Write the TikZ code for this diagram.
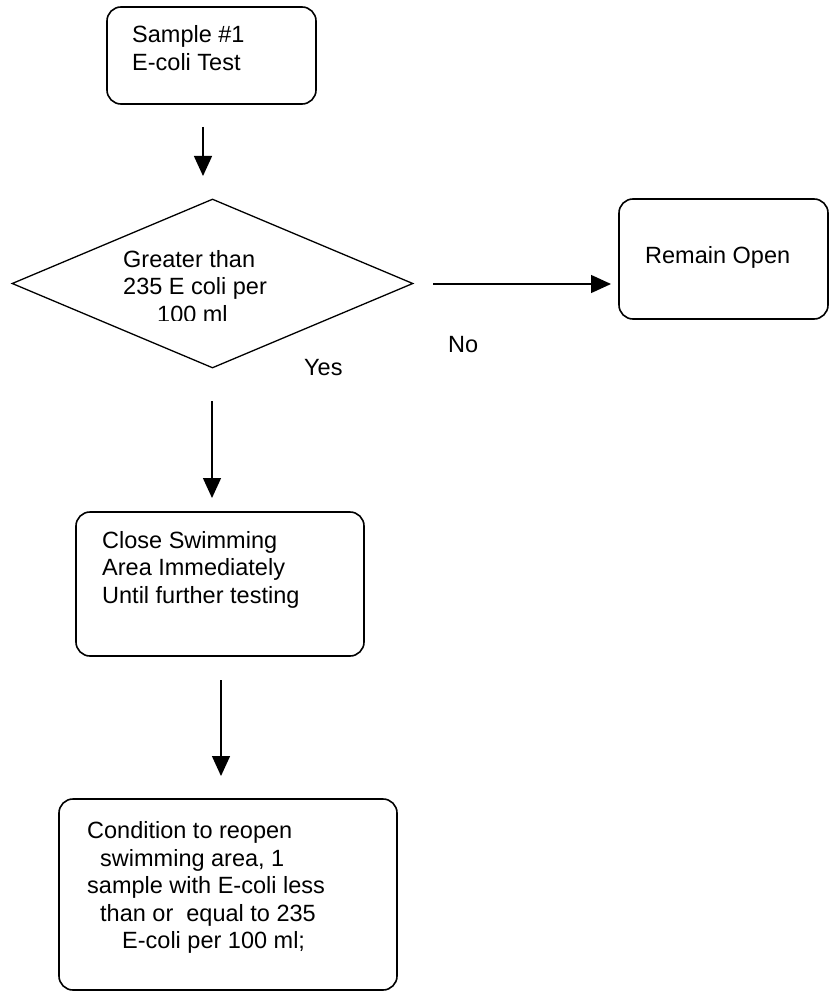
\documentclass[tikz,border=0pt]{standalone}
\usepackage{fontspec}
\setmainfont{Liberation Sans}
\usetikzlibrary{arrows.meta,shapes.geometric}

\begin{document}
\begin{tikzpicture}[x=1pt, y=-1pt,
    box/.style = {draw, rounded corners=14pt, line width=1.6pt, inner sep=0pt},
    txt/.style = {anchor=base west, align=left, inner sep=0pt, font=\fontsize{23.5}{27.5}\selectfont},
    arr/.style = {-{Triangle[length=20pt, width=18pt]}, line width=1.4pt}]
            \useasboundingbox (0,0) rectangle (830,992);
            % boxes
            \node[box, minimum width=209pt, minimum height=97pt] (sample) at (211.5,55.5) {};
            \node[draw, diamond, line width=1.3pt, inner sep=0pt, minimum width=401pt, minimum height=169pt] (test) at (212.5,283.5) {};
            \node[box, minimum width=209pt, minimum height=120pt] (open) at (723.5,259) {};
            \node[box, minimum width=288pt, minimum height=144pt] (close) at (220,584) {};
            \node[box, minimum width=338pt, minimum height=191pt] (reopen) at (228,894.5) {};
            % texts (placed at the baseline of their last line)
            \node[txt] (sampletxt) at (132,70.5) {Sample \#1\\E-coli Test};
            \begin{scope}
                \clip (0,0) rectangle (830,320);
                \node[txt] (testtxt) at (123,322) {Greater than\\235 E coli per\\\hspace*{34pt}100 ml};
            \end{scope}
            \node[txt] (opentxt) at (645,263) {Remain Open};
            \node[txt] (closetxt) at (102,603) {Close Swimming\\Area Immediately\\Until further testing};
            \node[txt] (reopentxt) at (87,948.5) {Condition to reopen\\\hspace*{13pt}swimming area, 1\\sample with E-coli less\\\hspace*{13pt}than or \ equal to 235\\\hspace*{35pt}E-coli per 100 ml;};
            \node[txt] (yes) at (304,375) {Yes};
            \node[txt] (no) at (448,352) {No};
            % arrows
            \coordinate (a1) at (203,127);  \coordinate (b1) at (203,176);
            \coordinate (a2) at (212,401);  \coordinate (b2) at (212,498);
            \coordinate (a3) at (221,680);  \coordinate (b3) at (221,776);
            \coordinate (a4) at (433,284);  \coordinate (b4) at (611,284);
            \draw[arr] (a1) -- (b1);
            \draw[arr] (a2) -- (b2);
            \draw[arr] (a3) -- (b3);
            \draw[arr] (a4) -- (b4);
        \end{tikzpicture}
\end{document}
